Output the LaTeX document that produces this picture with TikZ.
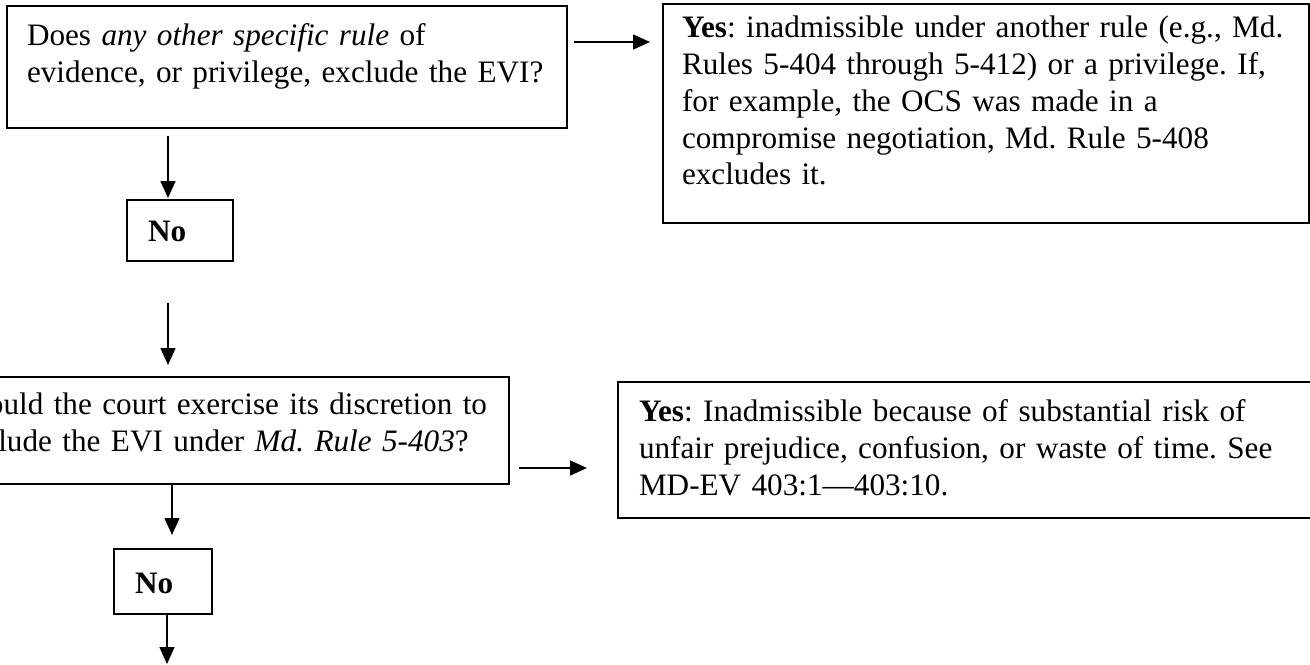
\documentclass[tikz,border=0pt]{standalone}
\usepackage{fontspec}
\setmainfont{Liberation Serif}
\usetikzlibrary{arrows.meta,calc}

\newcommand{\boxlines}[1]{\begin{tabular}[t]{@{}l@{}}#1\end{tabular}}

\tikzset{
  box/.style={draw,line width=1pt,rectangle,inner ysep=0pt,outer sep=0pt,anchor=north west,
    font=\fontsize{15.6}{18.5}\selectfont\frenchspacing},
  arr/.style={line width=0.75pt,-{Triangle[length=8.5pt,width=7.5pt]}}
}

\begin{document}
\begin{tikzpicture}[x=0.5pt,y=-0.5pt]
  \useasboundingbox (0,0) rectangle (1310,664);
  \clip (0,0) rectangle (1310,664);

  \node[box,inner xsep=10pt,text width=260pt,text height=19.5pt,text depth=41.5pt] (q1) at (7,6)
    {\boxlines{Does \textit{any other specific rule} of\\evidence, or privilege, exclude the EVI?}};
  \node[box,inner xsep=9.5pt,text width=304pt,text height=16.5pt,text depth=93pt] (y1) at (663,4)
    {\boxlines{\textbf{Yes}: inadmissible under another rule (e.g., Md.\\Rules 5-404 through 5-412) or a privilege. If,\\
     for example, the OCS was made in a\\compromise negotiation, Md. Rule 5-408\\excludes it.}};
  \node[box,inner xsep=10.5pt,text width=32pt,text height=20.5pt,text depth=10pt] (no1) at (127,200) {\textbf{No}};
  \node[box,inner xsep=7pt,text width=270pt,text height=18.5pt,text depth=35pt] (q2) at (-59,377)
    {\boxlines{Should the court exercise its discretion to\\exclude the EVI under \textit{Md. Rule 5-403}?}};
  \node[box,inner xsep=10.5pt,text width=335pt,text height=19.5pt,text depth=48.5pt] (y2) at (618,382)
    {\boxlines{\textbf{Yes}: Inadmissible because of substantial risk of\\unfair prejudice, confusion, or waste of time. See\\
     MD-EV 403:1---403:10.}};
  \node[box,inner xsep=10.5pt,text width=28pt,text height=22pt,text depth=10.5pt] (no2) at (114,549) {\textbf{No}};
  \coordinate (out) at (167,664);

  \draw[arr,shorten <=4pt,shorten >=1pt] ($(q1.south -| no1.north)+(-12,0)$) -- ($(no1.north)+(-12,0)$);
  \draw[arr,shorten <=21pt,shorten >=6pt] ($(no1.south)+(-12,0)$) -- ($(q2.north -| no1.south)+(-12,0)$);
  \draw[arr,shorten <=3.5pt,shorten >=6.5pt] ($(q1.north east)+(0,36)$) -- ($(y1.north west)+(0,38)$);
  \draw[arr,shorten >=7pt] ($(q2.south -| no2.north)+(9,0)$) -- ($(no2.north)+(9,0)$);
  \draw[arr,shorten <=5pt,shorten >=15.5pt] ($(q2.north east)+(0,91)$) -- ($(y2.north west)+(0,86)$);
  \draw[arr] ($(no2.south)+(4,0)$) -- (out);
\end{tikzpicture}
\end{document}
